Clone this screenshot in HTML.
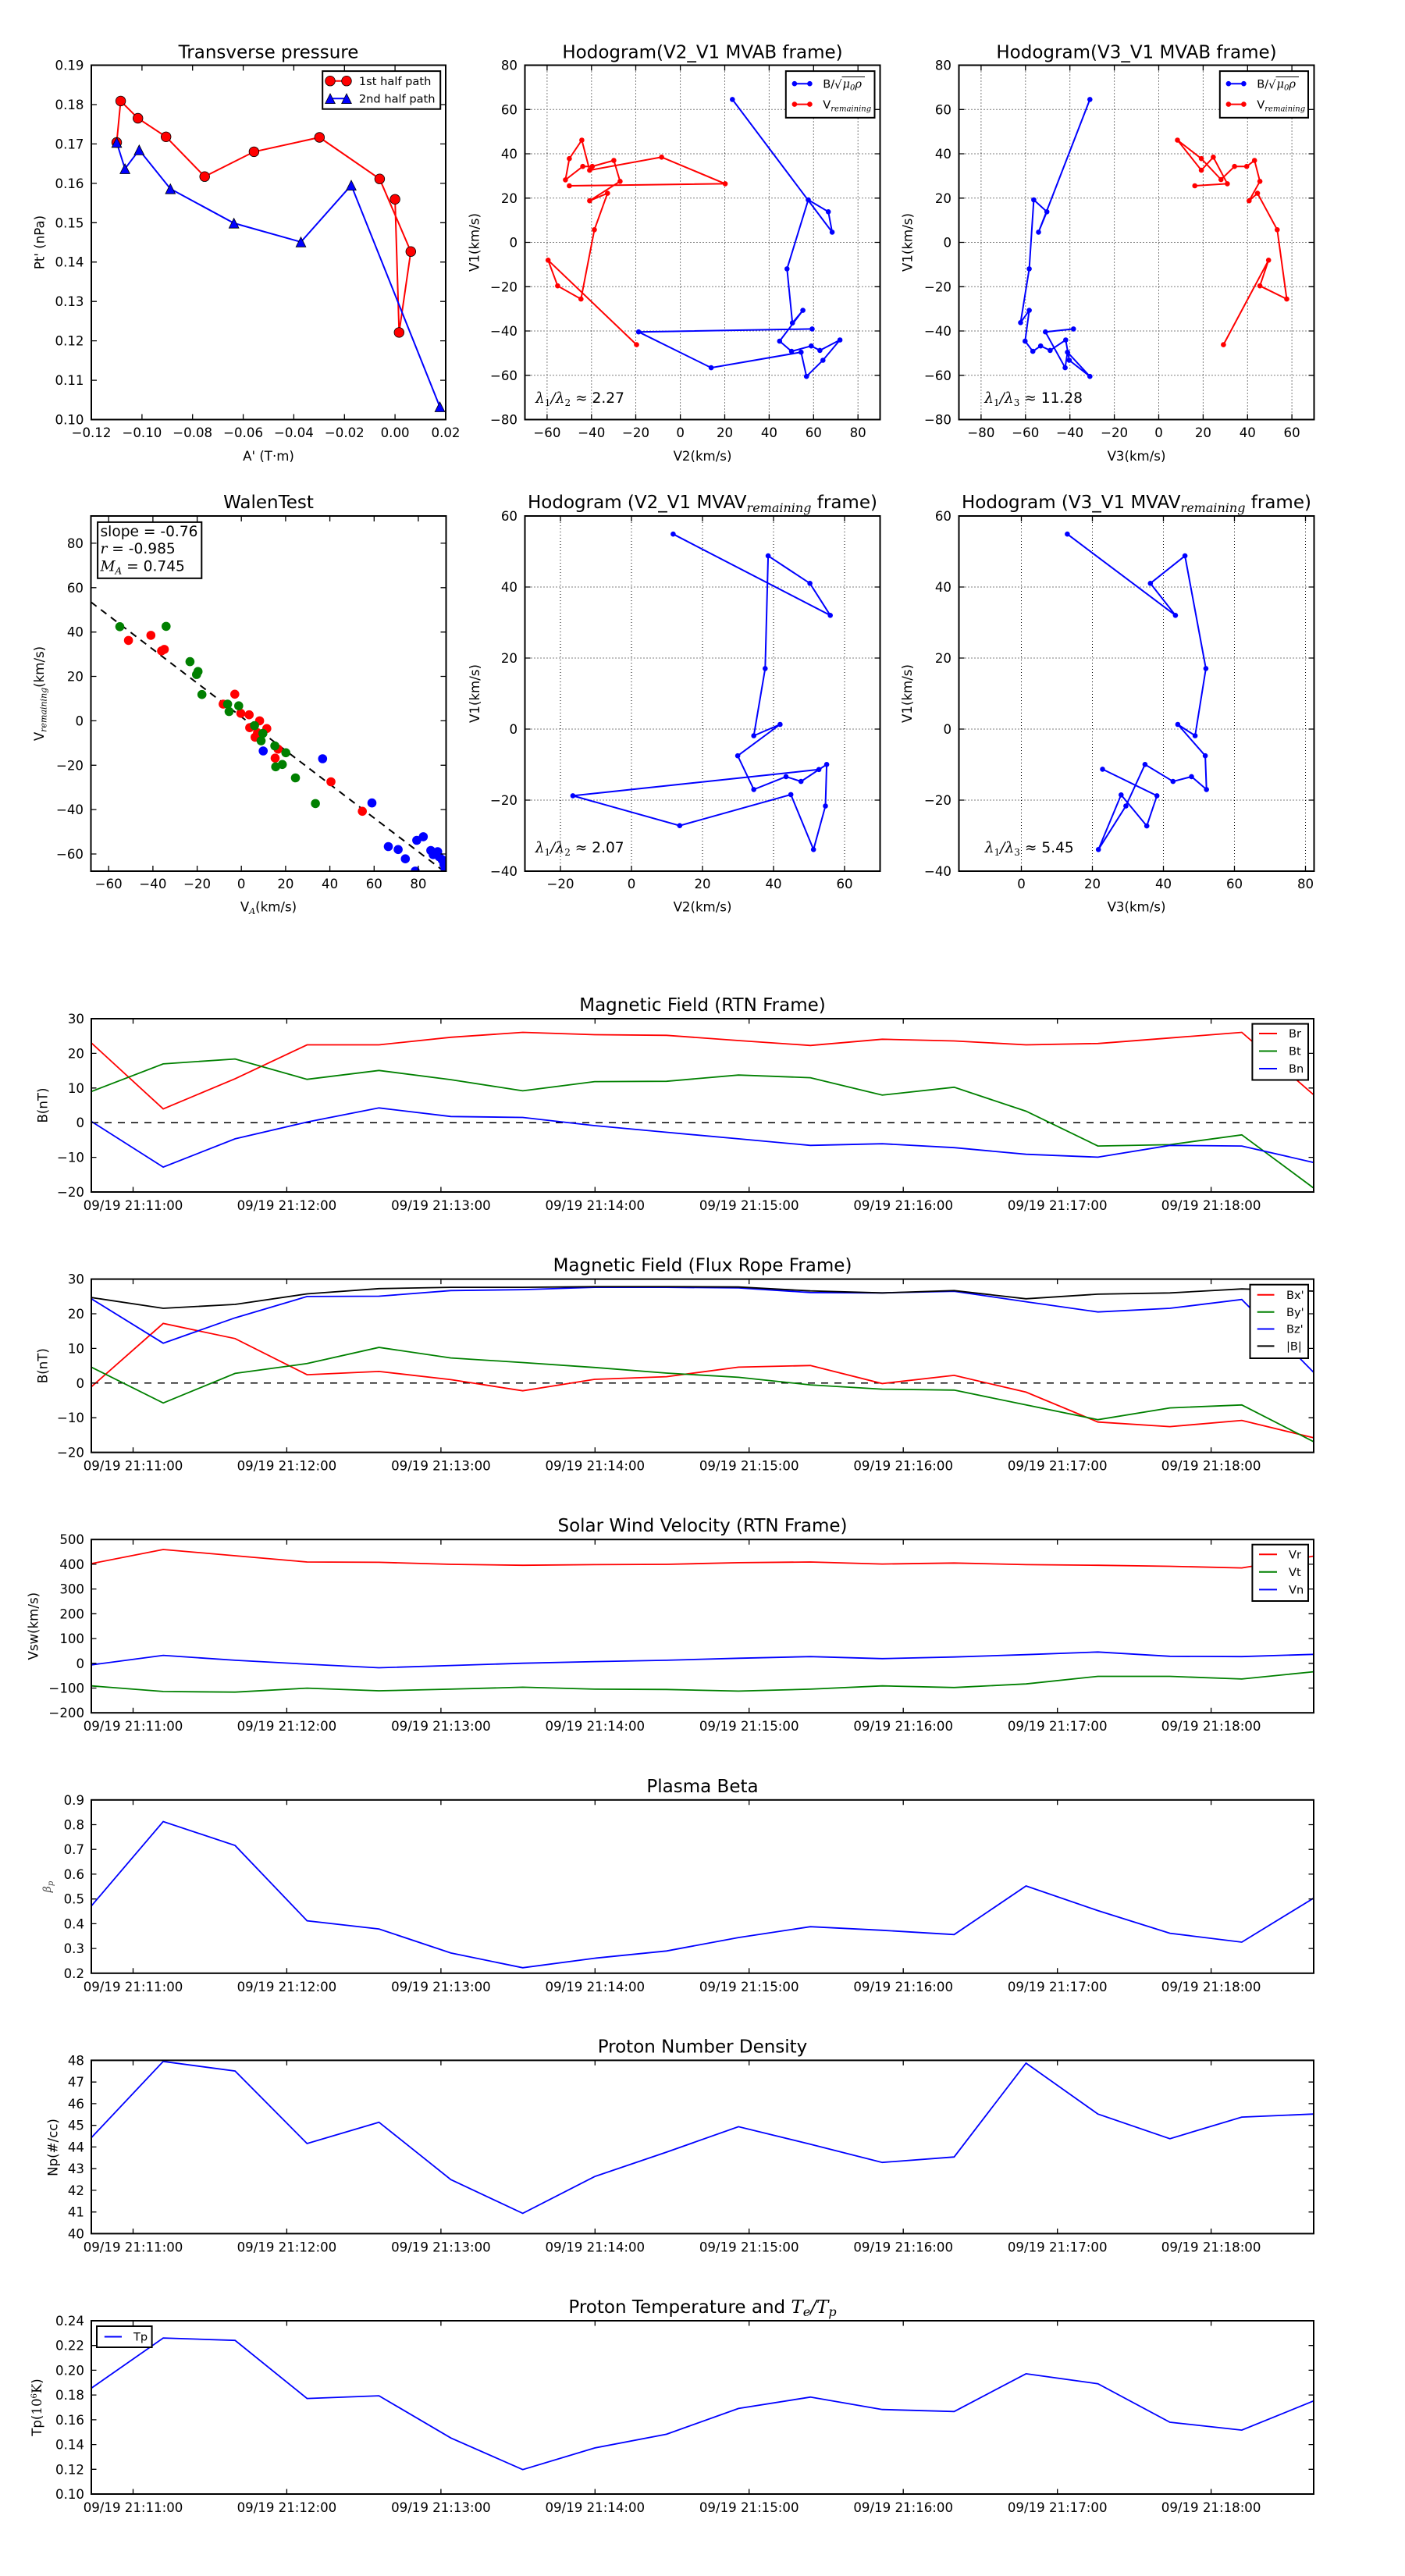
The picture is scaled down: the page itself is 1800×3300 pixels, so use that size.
<!DOCTYPE html>
<html><head><meta charset="utf-8"><style>
html,body{margin:0;padding:0;background:#fff}
svg{display:block}
svg text{font-family:"DejaVu Sans","Liberation Sans",sans-serif;fill:#000}
.tk{font-size:16.6px}
.tt{font-size:23px}
.lg{font-size:14.6px}
.bx{font-size:18.6px}
.mi{font-family:"DejaVu Serif","Liberation Serif",serif !important;font-style:italic}
.mr{font-family:"DejaVu Serif","Liberation Serif",serif !important}
.ax{fill:none;stroke:#000;stroke-width:2}
.tks{fill:none;stroke:#000;stroke-width:1.3}
.grd{fill:none;stroke:#000;stroke-width:1;stroke-dasharray:1,3}
</style></head><body>
<svg xmlns="http://www.w3.org/2000/svg" width="1800" height="3300" viewBox="0 0 1800 3300">
<rect x="0" y="0" width="1800" height="3300" fill="#fff"/>
<defs>
<clipPath id="cw"><rect x="116.5" y="661" width="455" height="455"/></clipPath>
<g id="xt"><path class="tks" d="M170.5 222v-6.5M367.4 222v-6.5M564.9 222v-6.5M762.3 222v-6.5M959.7 222v-6.5M1157.2 222v-6.5M1354.7 222v-6.5M1551.6 222v-6.5M170.5 0v6.5M367.4 0v6.5M564.9 0v6.5M762.3 0v6.5M959.7 0v6.5M1157.2 0v6.5M1354.7 0v6.5M1551.6 0v6.5"/></g>
</defs>

<!-- ============ PLOT 1: Transverse pressure ============ -->
<text class="tt" x="344" y="74.5" text-anchor="middle">Transverse pressure</text>
<polyline fill="none" stroke="#f00" stroke-width="2" points="149.5,182.5 154.6,129.4 176.7,151.5 212.7,175.3 262.2,226.2 325.4,194.4 409.3,176 486.4,229.2 526.3,322.2 511.3,425.9 506.1,255.3"/>
<g fill="#f00" stroke="#000" stroke-width="0.8">
<circle cx="149.5" cy="182.5" r="6.3"/><circle cx="154.6" cy="129.4" r="6.3"/><circle cx="176.7" cy="151.5" r="6.3"/><circle cx="212.7" cy="175.3" r="6.3"/><circle cx="262.2" cy="226.2" r="6.3"/><circle cx="325.4" cy="194.4" r="6.3"/><circle cx="409.3" cy="176" r="6.3"/><circle cx="486.4" cy="229.2" r="6.3"/><circle cx="526.3" cy="322.2" r="6.3"/><circle cx="511.3" cy="425.9" r="6.3"/><circle cx="506.1" cy="255.3" r="6.3"/>
</g>
<polyline fill="none" stroke="#00f" stroke-width="2" points="149.5,182.5 160.1,216.2 178.3,192.1 218.3,241.9 299.7,285.9 385.5,310 450,237.3 563.5,521.2"/>
<g fill="#00f" stroke="#000" stroke-width="0.8">
<polygon points="149.5,176.2 143.2,188.8 155.8,188.8"/><polygon points="160.1,209.9 153.8,222.5 166.4,222.5"/><polygon points="178.3,185.8 172,198.4 184.6,198.4"/><polygon points="218.3,235.6 212,248.2 224.6,248.2"/><polygon points="299.7,279.6 293.4,292.2 306,292.2"/><polygon points="385.5,303.7 379.2,316.3 391.8,316.3"/><polygon points="450,231 443.7,243.6 456.3,243.6"/><polygon points="563.5,514.9 557.2,527.5 569.8,527.5"/>
</g>
<rect class="ax" x="117" y="83.5" width="454" height="454"/>
<path class="tks" d="M117 537.5v-7M181.9 537.5v-7M246.7 537.5v-7M311.6 537.5v-7M376.4 537.5v-7M441.3 537.5v-7M506.1 537.5v-7M571 537.5v-7M117 83.5v7M181.9 83.5v7M246.7 83.5v7M311.6 83.5v7M376.4 83.5v7M441.3 83.5v7M506.1 83.5v7M571 83.5v7M117 487.1h7M117 436.6h7M117 386.2h7M117 335.7h7M117 285.3h7M117 234.9h7M117 184.4h7M117 134h7M571 487.1h-7M571 436.6h-7M571 386.2h-7M571 335.7h-7M571 285.3h-7M571 234.9h-7M571 184.4h-7M571 134h-7"/>
<g class="tk" text-anchor="middle">
<text x="117" y="560">−0.12</text><text x="181.9" y="560">−0.10</text><text x="246.7" y="560">−0.08</text><text x="311.6" y="560">−0.06</text><text x="376.4" y="560">−0.04</text><text x="441.3" y="560">−0.02</text><text x="506.1" y="560">0.00</text><text x="571" y="560">0.02</text>
</g>
<g class="tk" text-anchor="end">
<text x="107.5" y="543.5">0.10</text><text x="107.5" y="493.1">0.11</text><text x="107.5" y="442.6">0.12</text><text x="107.5" y="392.2">0.13</text><text x="107.5" y="341.7">0.14</text><text x="107.5" y="291.3">0.15</text><text x="107.5" y="240.9">0.16</text><text x="107.5" y="190.4">0.17</text><text x="107.5" y="140">0.18</text><text x="107.5" y="89.5">0.19</text>
</g>
<text class="tk" x="344" y="590" text-anchor="middle">A' (T·m)</text>
<text class="tk" transform="translate(56.6,310.5) rotate(-90)" text-anchor="middle">Pt' (nPa)</text>
<rect x="413.2" y="91.1" width="151" height="48.6" fill="#fff" stroke="#000" stroke-width="2"/>
<line x1="423" y1="103.7" x2="444" y2="103.7" stroke="#f00" stroke-width="2"/>
<circle cx="423" cy="103.7" r="6.3" fill="#f00" stroke="#000" stroke-width="0.8"/><circle cx="444" cy="103.7" r="6.3" fill="#f00" stroke="#000" stroke-width="0.8"/>
<text class="lg" x="459.9" y="109">1st half path</text>
<line x1="423" y1="126.3" x2="444" y2="126.3" stroke="#00f" stroke-width="2"/>
<polygon points="423,120 416.7,132.6 429.3,132.6" fill="#00f" stroke="#000" stroke-width="0.8"/><polygon points="444,120 437.7,132.6 450.3,132.6" fill="#00f" stroke="#000" stroke-width="0.8"/>
<text class="lg" x="459.9" y="131.6">2nd half path</text>

<!-- ============ PLOT 2: Hodogram V2_V1 MVAB ============ -->
<text class="tt" x="900" y="74.5" text-anchor="middle">Hodogram(V2_V1 MVAB frame)</text>
<path class="grd" d="M700.9 83.5V537.5M757.8 83.5V537.5M814.5 83.5V537.5M871.6 83.5V537.5M928.5 83.5V537.5M985.4 83.5V537.5M1042.3 83.5V537.5M1099.2 83.5V537.5M672.5 140.3H1127.5M672.5 197H1127.5M672.5 253.8H1127.5M672.5 310.5H1127.5M672.5 367.3H1127.5M672.5 424H1127.5M672.5 480.8H1127.5"/>
<polyline fill="none" stroke="#00f" stroke-width="2" points="938.3,127.4 1066.1,297.4 1061.2,271.3 1035.5,256 1008.3,344.4 1015.2,413.7 1028.6,397.6 998.8,437 1014.1,450.1 1039.3,443.2 1050.4,448.9 1076.1,435.5 1054.3,461.5 1033.2,482.2 1026.3,451.2 911.1,471.1 818.1,425.2 1040.5,421.4"/>
<g fill="#00f">
<circle cx="938.3" cy="127.4" r="3.3"/><circle cx="1066.1" cy="297.4" r="3.3"/><circle cx="1061.2" cy="271.3" r="3.3"/><circle cx="1035.5" cy="256" r="3.3"/><circle cx="1008.3" cy="344.4" r="3.3"/><circle cx="1015.2" cy="413.7" r="3.3"/><circle cx="1028.6" cy="397.6" r="3.3"/><circle cx="998.8" cy="437" r="3.3"/><circle cx="1014.1" cy="450.1" r="3.3"/><circle cx="1039.3" cy="443.2" r="3.3"/><circle cx="1050.4" cy="448.9" r="3.3"/><circle cx="1076.1" cy="435.5" r="3.3"/><circle cx="1054.3" cy="461.5" r="3.3"/><circle cx="1033.2" cy="482.2" r="3.3"/><circle cx="1026.3" cy="451.2" r="3.3"/><circle cx="911.1" cy="471.1" r="3.3"/><circle cx="818.1" cy="425.2" r="3.3"/><circle cx="1040.5" cy="421.4" r="3.3"/>
</g>
<polyline fill="none" stroke="#f00" stroke-width="2" points="729.4,238 929.1,235.4 847.6,201.3 755.4,218.1 745.4,179.5 729.4,203.2 724.4,230.4 746.6,213.2 758.8,213.2 786.4,205.5 794.4,232.3 755.4,257.2 778.3,247.6 761.5,294.3 744.3,383.1 714.4,366.2 702.2,333.3 815.5,441.6"/>
<g fill="#f00">
<circle cx="729.4" cy="238" r="3.3"/><circle cx="929.1" cy="235.4" r="3.3"/><circle cx="847.6" cy="201.3" r="3.3"/><circle cx="755.4" cy="218.1" r="3.3"/><circle cx="745.4" cy="179.5" r="3.3"/><circle cx="729.4" cy="203.2" r="3.3"/><circle cx="724.4" cy="230.4" r="3.3"/><circle cx="746.6" cy="213.2" r="3.3"/><circle cx="758.8" cy="213.2" r="3.3"/><circle cx="786.4" cy="205.5" r="3.3"/><circle cx="794.4" cy="232.3" r="3.3"/><circle cx="755.4" cy="257.2" r="3.3"/><circle cx="778.3" cy="247.6" r="3.3"/><circle cx="761.5" cy="294.3" r="3.3"/><circle cx="744.3" cy="383.1" r="3.3"/><circle cx="714.4" cy="366.2" r="3.3"/><circle cx="702.2" cy="333.3" r="3.3"/><circle cx="815.5" cy="441.6" r="3.3"/>
</g>
<rect class="ax" x="672.5" y="83.5" width="455" height="454"/>
<path class="tks" d="M700.9 537.5v-7M757.8 537.5v-7M814.5 537.5v-7M871.6 537.5v-7M928.5 537.5v-7M985.4 537.5v-7M1042.3 537.5v-7M1099.2 537.5v-7M700.9 83.5v7M757.8 83.5v7M814.5 83.5v7M871.6 83.5v7M928.5 83.5v7M985.4 83.5v7M1042.3 83.5v7M1099.2 83.5v7M672.5 140.3h7M672.5 197h7M672.5 253.8h7M672.5 310.5h7M672.5 367.3h7M672.5 424h7M672.5 480.8h7M1127.5 140.3h-7M1127.5 197h-7M1127.5 253.8h-7M1127.5 310.5h-7M1127.5 367.3h-7M1127.5 424h-7M1127.5 480.8h-7"/>
<g class="tk" text-anchor="middle">
<text x="700.9" y="560">−60</text><text x="757.8" y="560">−40</text><text x="814.5" y="560">−20</text><text x="871.6" y="560">0</text><text x="928.5" y="560">20</text><text x="985.4" y="560">40</text><text x="1042.3" y="560">60</text><text x="1099.2" y="560">80</text>
</g>
<g class="tk" text-anchor="end">
<text x="663" y="89.5">80</text><text x="663" y="146.3">60</text><text x="663" y="203">40</text><text x="663" y="259.8">20</text><text x="663" y="316.5">0</text><text x="663" y="373.3">−20</text><text x="663" y="430">−40</text><text x="663" y="486.8">−60</text><text x="663" y="543.5">−80</text>
</g>
<text class="tk" x="900" y="590" text-anchor="middle">V2(km/s)</text>
<text class="tk" transform="translate(613.6,310.5) rotate(-90)" text-anchor="middle">V1(km/s)</text>
<text x="686" y="516" class="bx"><tspan class="mi">λ</tspan><tspan class="mr" font-size="12" dy="4">1</tspan><tspan class="mi" dy="-4">/λ</tspan><tspan class="mr" font-size="12" dy="4">2</tspan><tspan class="mr" dy="-4"> ≈ </tspan><tspan>2.27</tspan></text>
<rect x="1006.8" y="91.1" width="113.7" height="59.7" fill="#fff" stroke="#000" stroke-width="2"/>
<line x1="1017.9" y1="107.2" x2="1037.4" y2="107.2" stroke="#00f" stroke-width="2"/>
<circle cx="1017.9" cy="107.2" r="3.3" fill="#00f"/><circle cx="1037.4" cy="107.2" r="3.3" fill="#00f"/>
<text class="lg" x="1054.3" y="112.5">B/</text>
<text class="mr" x="1069" y="113.5" font-size="15">√</text>
<line x1="1078.5" y1="98.5" x2="1108" y2="98.5" stroke="#000" stroke-width="1"/>
<text class="mi" x="1079.5" y="112.5" font-size="14.6">μ<tspan class="mr" font-size="10" dy="3">0</tspan><tspan dy="-3">ρ</tspan></text>
<line x1="1017.9" y1="133.6" x2="1037.4" y2="133.6" stroke="#f00" stroke-width="2"/>
<circle cx="1017.9" cy="133.6" r="3.3" fill="#f00"/><circle cx="1037.4" cy="133.6" r="3.3" fill="#f00"/>
<text class="lg" x="1054.3" y="138.9">V<tspan class="mi" font-size="10" dy="3.5">remaining</tspan></text>

<!-- ============ PLOT 3: Hodogram V3_V1 MVAB ============ -->
<text class="tt" x="1456" y="74.5" text-anchor="middle">Hodogram(V3_V1 MVAB frame)</text>
<path class="grd" d="M1256.9 83.5V537.5M1313.8 83.5V537.5M1370.7 83.5V537.5M1427.6 83.5V537.5M1484.5 83.5V537.5M1541.4 83.5V537.5M1598.3 83.5V537.5M1655.1 83.5V537.5M1228.5 140.3H1683.5M1228.5 197H1683.5M1228.5 253.8H1683.5M1228.5 310.5H1683.5M1228.5 367.3H1683.5M1228.5 424H1683.5M1228.5 480.8H1683.5"/>
<polyline fill="none" stroke="#00f" stroke-width="2" points="1396.3,127.4 1330.5,297.4 1341.2,271.3 1324.4,256 1318.6,344.4 1307.5,413.3 1318.6,397.6 1313.3,437 1323.2,450.1 1333.2,443.2 1345.4,448.9 1365.3,435.5 1369.9,461.5 1396.3,482.2 1367.6,451.2 1364.6,471.1 1339.3,425.2 1375.3,421.4"/>
<g fill="#00f">
<circle cx="1396.3" cy="127.4" r="3.3"/><circle cx="1330.5" cy="297.4" r="3.3"/><circle cx="1341.2" cy="271.3" r="3.3"/><circle cx="1324.4" cy="256" r="3.3"/><circle cx="1318.6" cy="344.4" r="3.3"/><circle cx="1307.5" cy="413.3" r="3.3"/><circle cx="1318.6" cy="397.6" r="3.3"/><circle cx="1313.3" cy="437" r="3.3"/><circle cx="1323.2" cy="450.1" r="3.3"/><circle cx="1333.2" cy="443.2" r="3.3"/><circle cx="1345.4" cy="448.9" r="3.3"/><circle cx="1365.3" cy="435.5" r="3.3"/><circle cx="1369.9" cy="461.5" r="3.3"/><circle cx="1396.3" cy="482.2" r="3.3"/><circle cx="1367.6" cy="451.2" r="3.3"/><circle cx="1364.6" cy="471.1" r="3.3"/><circle cx="1339.3" cy="425.2" r="3.3"/><circle cx="1375.3" cy="421.4" r="3.3"/>
</g>
<polyline fill="none" stroke="#f00" stroke-width="2" points="1530.7,238 1572.4,235.4 1554.4,201.3 1539.1,218.1 1508.5,179.5 1539.1,203.2 1564.3,230 1581.6,213.2 1597.2,213.2 1607.2,205.5 1614.1,232.3 1600.3,257.2 1611,247.6 1636.3,294.3 1648.5,383.1 1614.1,366.2 1625.2,333.3 1567.4,441.6"/>
<g fill="#f00">
<circle cx="1530.7" cy="238" r="3.3"/><circle cx="1572.4" cy="235.4" r="3.3"/><circle cx="1554.4" cy="201.3" r="3.3"/><circle cx="1539.1" cy="218.1" r="3.3"/><circle cx="1508.5" cy="179.5" r="3.3"/><circle cx="1539.1" cy="203.2" r="3.3"/><circle cx="1564.3" cy="230" r="3.3"/><circle cx="1581.6" cy="213.2" r="3.3"/><circle cx="1597.2" cy="213.2" r="3.3"/><circle cx="1607.2" cy="205.5" r="3.3"/><circle cx="1614.1" cy="232.3" r="3.3"/><circle cx="1600.3" cy="257.2" r="3.3"/><circle cx="1611" cy="247.6" r="3.3"/><circle cx="1636.3" cy="294.3" r="3.3"/><circle cx="1648.5" cy="383.1" r="3.3"/><circle cx="1614.1" cy="366.2" r="3.3"/><circle cx="1625.2" cy="333.3" r="3.3"/><circle cx="1567.4" cy="441.6" r="3.3"/>
</g>
<rect class="ax" x="1228.5" y="83.5" width="455" height="454"/>
<path class="tks" d="M1256.9 537.5v-7M1313.8 537.5v-7M1370.7 537.5v-7M1427.6 537.5v-7M1484.5 537.5v-7M1541.4 537.5v-7M1598.3 537.5v-7M1655.1 537.5v-7M1256.9 83.5v7M1313.8 83.5v7M1370.7 83.5v7M1427.6 83.5v7M1484.5 83.5v7M1541.4 83.5v7M1598.3 83.5v7M1655.1 83.5v7M1228.5 140.3h7M1228.5 197h7M1228.5 253.8h7M1228.5 310.5h7M1228.5 367.3h7M1228.5 424h7M1228.5 480.8h7M1683.5 140.3h-7M1683.5 197h-7M1683.5 253.8h-7M1683.5 310.5h-7M1683.5 367.3h-7M1683.5 424h-7M1683.5 480.8h-7"/>
<g class="tk" text-anchor="middle">
<text x="1256.9" y="560">−80</text><text x="1313.8" y="560">−60</text><text x="1370.7" y="560">−40</text><text x="1427.6" y="560">−20</text><text x="1484.5" y="560">0</text><text x="1541.4" y="560">20</text><text x="1598.3" y="560">40</text><text x="1655.1" y="560">60</text>
</g>
<g class="tk" text-anchor="end">
<text x="1219" y="89.5">80</text><text x="1219" y="146.3">60</text><text x="1219" y="203">40</text><text x="1219" y="259.8">20</text><text x="1219" y="316.5">0</text><text x="1219" y="373.3">−20</text><text x="1219" y="430">−40</text><text x="1219" y="486.8">−60</text><text x="1219" y="543.5">−80</text>
</g>
<text class="tk" x="1456" y="590" text-anchor="middle">V3(km/s)</text>
<text class="tk" transform="translate(1168.6,310.5) rotate(-90)" text-anchor="middle">V1(km/s)</text>
<text x="1261.2" y="516" class="bx"><tspan class="mi">λ</tspan><tspan class="mr" font-size="12" dy="4">1</tspan><tspan class="mi" dy="-4">/λ</tspan><tspan class="mr" font-size="12" dy="4">3</tspan><tspan class="mr" dy="-4"> ≈ </tspan><tspan>11.28</tspan></text>
<rect x="1562.8" y="91.1" width="113.2" height="59.7" fill="#fff" stroke="#000" stroke-width="2"/>
<line x1="1573.9" y1="107.2" x2="1593.4" y2="107.2" stroke="#00f" stroke-width="2"/>
<circle cx="1573.9" cy="107.2" r="3.3" fill="#00f"/><circle cx="1593.4" cy="107.2" r="3.3" fill="#00f"/>
<text class="lg" x="1610.3" y="112.5">B/</text>
<text class="mr" x="1625" y="113.5" font-size="15">√</text>
<line x1="1634.5" y1="98.5" x2="1664" y2="98.5" stroke="#000" stroke-width="1"/>
<text class="mi" x="1635.5" y="112.5" font-size="14.6">μ<tspan class="mr" font-size="10" dy="3">0</tspan><tspan dy="-3">ρ</tspan></text>
<line x1="1573.9" y1="133.6" x2="1593.4" y2="133.6" stroke="#f00" stroke-width="2"/>
<circle cx="1573.9" cy="133.6" r="3.3" fill="#f00"/><circle cx="1593.4" cy="133.6" r="3.3" fill="#f00"/>
<text class="lg" x="1610.3" y="138.9">V<tspan class="mi" font-size="10" dy="3.5">remaining</tspan></text>

<!-- ============ PLOT 4: WalenTest ============ -->
<text class="tt" x="344" y="651" text-anchor="middle">WalenTest</text>
<g clip-path="url(#cw)">
<line x1="116.5" y1="771.3" x2="571.5" y2="1118.2" stroke="#000" stroke-width="2" stroke-dasharray="9,7"/>
<g fill="#f00">
<circle cx="164.6" cy="820.4" r="5.8"/><circle cx="193.3" cy="813.9" r="5.8"/><circle cx="207" cy="833.8" r="5.8"/><circle cx="210.5" cy="831.9" r="5.8"/><circle cx="300.8" cy="889.3" r="5.8"/><circle cx="285.9" cy="902" r="5.8"/><circle cx="308.5" cy="913.8" r="5.8"/><circle cx="319.2" cy="915.7" r="5.8"/><circle cx="332.6" cy="923.4" r="5.8"/><circle cx="319.9" cy="932.2" r="5.8"/><circle cx="341.8" cy="933.3" r="5.8"/><circle cx="326.8" cy="944.4" r="5.8"/><circle cx="329.9" cy="938.7" r="5.8"/><circle cx="356.3" cy="959.7" r="5.8"/><circle cx="352.5" cy="971.2" r="5.8"/><circle cx="424" cy="1001.5" r="5.8"/><circle cx="464.2" cy="1039.3" r="5.8"/>
</g>
<g fill="#008000">
<circle cx="153.5" cy="802.8" r="5.8"/><circle cx="212.8" cy="802.4" r="5.8"/><circle cx="243.4" cy="847.6" r="5.8"/><circle cx="253.7" cy="860.2" r="5.8"/><circle cx="251.8" cy="864.1" r="5.8"/><circle cx="258.7" cy="889.7" r="5.8"/><circle cx="291.6" cy="902" r="5.8"/><circle cx="293.5" cy="911.5" r="5.8"/><circle cx="305.8" cy="904.2" r="5.8"/><circle cx="326.1" cy="929.5" r="5.8"/><circle cx="336.8" cy="939.5" r="5.8"/><circle cx="334.5" cy="949" r="5.8"/><circle cx="352.1" cy="955.5" r="5.8"/><circle cx="366.2" cy="964.3" r="5.8"/><circle cx="353.2" cy="982.3" r="5.8"/><circle cx="361.7" cy="979.3" r="5.8"/><circle cx="378.5" cy="996.5" r="5.8"/><circle cx="404.1" cy="1029.4" r="5.8"/>
</g>
<g fill="#00f">
<circle cx="337.2" cy="962" r="5.8"/><circle cx="413.3" cy="972" r="5.8"/><circle cx="476.5" cy="1028.6" r="5.8"/><circle cx="497.5" cy="1084.5" r="5.8"/><circle cx="510.1" cy="1088.3" r="5.8"/><circle cx="519.3" cy="1100.2" r="5.8"/><circle cx="533.9" cy="1076.5" r="5.8"/><circle cx="542.3" cy="1071.9" r="5.8"/><circle cx="532" cy="1115.9" r="5.8"/><circle cx="551.9" cy="1089.5" r="5.8"/><circle cx="554.9" cy="1094.8" r="5.8"/><circle cx="560.7" cy="1091" r="5.8"/><circle cx="562.6" cy="1097.5" r="5.8"/><circle cx="566.4" cy="1101.3" r="5.8"/><circle cx="568.7" cy="1107.1" r="5.8"/><circle cx="570.2" cy="1112.8" r="5.8"/>
</g>
</g>
<rect class="ax" x="116.5" y="661" width="455" height="455"/>
<path class="tks" d="M139.2 1116v-7M195.9 1116v-7M252.6 1116v-7M309.2 1116v-7M365.9 1116v-7M422.6 1116v-7M479.3 1116v-7M535.9 1116v-7M139.2 661v7M195.9 661v7M252.6 661v7M309.2 661v7M365.9 661v7M422.6 661v7M479.3 661v7M535.9 661v7M116.5 695.9h7M116.5 752.8h7M116.5 809.7h7M116.5 866.5h7M116.5 923.4h7M116.5 980.3h7M116.5 1037.1h7M116.5 1094h7M571.5 695.9h-7M571.5 752.8h-7M571.5 809.7h-7M571.5 866.5h-7M571.5 923.4h-7M571.5 980.3h-7M571.5 1037.1h-7M571.5 1094h-7"/>
<g class="tk" text-anchor="middle">
<text x="139.2" y="1138">−60</text><text x="195.9" y="1138">−40</text><text x="252.6" y="1138">−20</text><text x="309.2" y="1138">0</text><text x="365.9" y="1138">20</text><text x="422.6" y="1138">40</text><text x="479.3" y="1138">60</text><text x="535.9" y="1138">80</text>
</g>
<g class="tk" text-anchor="end">
<text x="107" y="701.9">80</text><text x="107" y="758.8">60</text><text x="107" y="815.7">40</text><text x="107" y="872.5">20</text><text x="107" y="929.4">0</text><text x="107" y="986.3">−20</text><text x="107" y="1043.1">−40</text><text x="107" y="1100">−60</text>
</g>
<text class="tk" x="344" y="1167.5" text-anchor="middle">V<tspan class="mi" font-size="11" dy="3.5">A</tspan><tspan dy="-3.5">(km/s)</tspan></text>
<text class="tk" transform="translate(55.8,888.5) rotate(-90)" text-anchor="middle">V<tspan class="mi" font-size="11" dy="3.5">remaining</tspan><tspan dy="-3.5">(km/s)</tspan></text>
<rect x="125.1" y="668.9" width="133.2" height="71.9" fill="#fff" stroke="#000" stroke-width="2"/>
<text class="bx" x="128.5" y="687">slope = -0.76</text>
<text class="bx" x="128.5" y="709.2"><tspan class="mi">r</tspan> = -0.985</text>
<text class="bx" x="128.5" y="731.4"><tspan class="mi">M</tspan><tspan class="mi" font-size="12" dy="4">A</tspan><tspan dy="-4"> = 0.745</tspan></text>

<!-- ============ PLOT 5: Hodogram V2_V1 MVAV ============ -->
<text class="tt" x="900" y="651" text-anchor="middle">Hodogram (V2_V1 MVAV<tspan class="mi" font-size="16" dy="5">remaining</tspan><tspan dy="-5"> frame)</tspan></text>
<path class="grd" d="M718 661V1116M809 661V1116M900 661V1116M991 661V1116M1082 661V1116M672.5 752H1127.5M672.5 843H1127.5M672.5 934H1127.5M672.5 1025H1127.5"/>
<polyline fill="none" stroke="#00f" stroke-width="2" points="862.4,684.2 1063.7,788.3 1037.6,747.3 984.1,712.1 980.3,856.4 965.7,942.5 999.4,928 945.1,968.2 965.7,1011.4 1007,994.9 1026.2,1001.1 1059.1,979.3 1057.5,1032.5 1042.2,1088.3 1013.2,1017.9 870.8,1057.7 733.9,1019.4 1049.1,985.8"/>
<g fill="#00f">
<circle cx="862.4" cy="684.2" r="3.3"/><circle cx="1063.7" cy="788.3" r="3.3"/><circle cx="1037.6" cy="747.3" r="3.3"/><circle cx="984.1" cy="712.1" r="3.3"/><circle cx="980.3" cy="856.4" r="3.3"/><circle cx="965.7" cy="942.5" r="3.3"/><circle cx="999.4" cy="928" r="3.3"/><circle cx="945.1" cy="968.2" r="3.3"/><circle cx="965.7" cy="1011.4" r="3.3"/><circle cx="1007" cy="994.9" r="3.3"/><circle cx="1026.2" cy="1001.1" r="3.3"/><circle cx="1059.1" cy="979.3" r="3.3"/><circle cx="1057.5" cy="1032.5" r="3.3"/><circle cx="1042.2" cy="1088.3" r="3.3"/><circle cx="1013.2" cy="1017.9" r="3.3"/><circle cx="870.8" cy="1057.7" r="3.3"/><circle cx="733.9" cy="1019.4" r="3.3"/><circle cx="1049.1" cy="985.8" r="3.3"/>
</g>
<rect class="ax" x="672.5" y="661" width="455" height="455"/>
<path class="tks" d="M718 1116v-7M809 1116v-7M900 1116v-7M991 1116v-7M1082 1116v-7M718 661v7M809 661v7M900 661v7M991 661v7M1082 661v7M672.5 752h7M672.5 843h7M672.5 934h7M672.5 1025h7M1127.5 752h-7M1127.5 843h-7M1127.5 934h-7M1127.5 1025h-7"/>
<g class="tk" text-anchor="middle">
<text x="718" y="1138">−20</text><text x="809" y="1138">0</text><text x="900" y="1138">20</text><text x="991" y="1138">40</text><text x="1082" y="1138">60</text>
</g>
<g class="tk" text-anchor="end">
<text x="663" y="667">60</text><text x="663" y="758">40</text><text x="663" y="849">20</text><text x="663" y="940">0</text><text x="663" y="1031">−20</text><text x="663" y="1122">−40</text>
</g>
<text class="tk" x="900" y="1167.5" text-anchor="middle">V2(km/s)</text>
<text class="tk" transform="translate(614,888.5) rotate(-90)" text-anchor="middle">V1(km/s)</text>
<text x="685.7" y="1092" class="bx"><tspan class="mi">λ</tspan><tspan class="mr" font-size="12" dy="4">1</tspan><tspan class="mi" dy="-4">/λ</tspan><tspan class="mr" font-size="12" dy="4">2</tspan><tspan class="mr" dy="-4"> ≈ </tspan><tspan>2.07</tspan></text>

<!-- ============ PLOT 6: Hodogram V3_V1 MVAV ============ -->
<text class="tt" x="1456" y="651" text-anchor="middle">Hodogram (V3_V1 MVAV<tspan class="mi" font-size="16" dy="5">remaining</tspan><tspan dy="-5"> frame)</tspan></text>
<path class="grd" d="M1308.5 661V1116M1399.5 661V1116M1490.5 661V1116M1581.5 661V1116M1672.5 661V1116M1228.5 752H1683.5M1228.5 843H1683.5M1228.5 934H1683.5M1228.5 1025H1683.5"/>
<polyline fill="none" stroke="#00f" stroke-width="2" points="1367.4,684.2 1505.9,788.3 1473.8,747.3 1518.1,712.1 1544.9,856.4 1531.1,942.5 1508.9,928 1544.1,968.2 1545.7,1011.4 1526.5,994.9 1502.8,1001.1 1466.9,979.3 1442.4,1032.5 1407.2,1088.3 1436.3,1018.3 1469.2,1058.1 1482.2,1019.4 1412.5,985.4"/>
<g fill="#00f">
<circle cx="1367.4" cy="684.2" r="3.3"/><circle cx="1505.9" cy="788.3" r="3.3"/><circle cx="1473.8" cy="747.3" r="3.3"/><circle cx="1518.1" cy="712.1" r="3.3"/><circle cx="1544.9" cy="856.4" r="3.3"/><circle cx="1531.1" cy="942.5" r="3.3"/><circle cx="1508.9" cy="928" r="3.3"/><circle cx="1544.1" cy="968.2" r="3.3"/><circle cx="1545.7" cy="1011.4" r="3.3"/><circle cx="1526.5" cy="994.9" r="3.3"/><circle cx="1502.8" cy="1001.1" r="3.3"/><circle cx="1466.9" cy="979.3" r="3.3"/><circle cx="1442.4" cy="1032.5" r="3.3"/><circle cx="1407.2" cy="1088.3" r="3.3"/><circle cx="1436.3" cy="1018.3" r="3.3"/><circle cx="1469.2" cy="1058.1" r="3.3"/><circle cx="1482.2" cy="1019.4" r="3.3"/><circle cx="1412.5" cy="985.4" r="3.3"/>
</g>
<rect class="ax" x="1228.5" y="661" width="455" height="455"/>
<path class="tks" d="M1308.5 1116v-7M1399.5 1116v-7M1490.5 1116v-7M1581.5 1116v-7M1672.5 1116v-7M1308.5 661v7M1399.5 661v7M1490.5 661v7M1581.5 661v7M1672.5 661v7M1228.5 752h7M1228.5 843h7M1228.5 934h7M1228.5 1025h7M1683.5 752h-7M1683.5 843h-7M1683.5 934h-7M1683.5 1025h-7"/>
<g class="tk" text-anchor="middle">
<text x="1308.5" y="1138">0</text><text x="1399.5" y="1138">20</text><text x="1490.5" y="1138">40</text><text x="1581.5" y="1138">60</text><text x="1672.5" y="1138">80</text>
</g>
<g class="tk" text-anchor="end">
<text x="1219" y="667">60</text><text x="1219" y="758">40</text><text x="1219" y="849">20</text><text x="1219" y="940">0</text><text x="1219" y="1031">−20</text><text x="1219" y="1122">−40</text>
</g>
<text class="tk" x="1456" y="1167.5" text-anchor="middle">V3(km/s)</text>
<text class="tk" transform="translate(1168,888.5) rotate(-90)" text-anchor="middle">V1(km/s)</text>
<text x="1261.8" y="1092" class="bx"><tspan class="mi">λ</tspan><tspan class="mr" font-size="12" dy="4">1</tspan><tspan class="mi" dy="-4">/λ</tspan><tspan class="mr" font-size="12" dy="4">3</tspan><tspan class="mr" dy="-4"> ≈ </tspan><tspan>5.45</tspan></text>

<!-- ============ TS1: Magnetic Field RTN ============ -->
<text class="tt" x="900" y="1295" text-anchor="middle">Magnetic Field (RTN Frame)</text>
<line x1="117" y1="1438.2" x2="1683" y2="1438.2" stroke="#000" stroke-width="1.5" stroke-dasharray="9,8"/>
<polyline fill="none" stroke="#f00" stroke-width="1.8" points="117,1336 209.1,1420.6 301.2,1381.9 393.4,1338.5 485.5,1338.5 577.6,1328.8 669.7,1322.5 761.8,1325.5 853.9,1326.3 946.1,1333 1038.2,1339.3 1130.3,1331.3 1222.4,1333.5 1314.5,1338.5 1406.6,1336.8 1498.8,1329.7 1590.9,1322.5 1683,1402.5"/>
<polyline fill="none" stroke="#008000" stroke-width="1.8" points="117,1398.3 209.1,1362.9 301.2,1356.6 393.4,1382.7 485.5,1371.3 577.6,1383.1 669.7,1397.4 761.8,1385.6 853.9,1385.2 946.1,1377.2 1038.2,1380.6 1130.3,1402.9 1222.4,1392.8 1314.5,1423.5 1406.6,1468.1 1498.8,1466.4 1590.9,1453.8 1683,1522"/>
<polyline fill="none" stroke="#00f" stroke-width="1.8" points="117,1436.6 209.1,1495.1 301.2,1458.9 393.4,1437.4 485.5,1419.3 577.6,1430.3 669.7,1431.5 761.8,1442 853.9,1450.5 946.1,1458.9 1038.2,1467.3 1130.3,1465.2 1222.4,1470.2 1314.5,1478.7 1406.6,1482.4 1498.8,1467.3 1590.9,1468.1 1683,1489.2"/>
<rect class="ax" x="117" y="1305" width="1566" height="222"/>
<use href="#xt" transform="translate(0,1305)"/>
<path class="tks" d="M117 1349.4h6.5M117 1393.8h6.5M117 1438.2h6.5M117 1482.6h6.5M1683 1349.4h-6.5M1683 1393.8h-6.5M1683 1438.2h-6.5M1683 1482.6h-6.5"/>
<g class="tk" text-anchor="end">
<text x="108" y="1311">30</text><text x="108" y="1355.4">20</text><text x="108" y="1399.8">10</text><text x="108" y="1444.2">0</text><text x="108" y="1488.6">−10</text><text x="108" y="1533">−20</text>
</g>
<g class="tk" text-anchor="middle">
<text x="170.5" y="1550">09/19 21:11:00</text><text x="367.4" y="1550">09/19 21:12:00</text><text x="564.9" y="1550">09/19 21:13:00</text><text x="762.3" y="1550">09/19 21:14:00</text><text x="959.7" y="1550">09/19 21:15:00</text><text x="1157.2" y="1550">09/19 21:16:00</text><text x="1354.7" y="1550">09/19 21:17:00</text><text x="1551.6" y="1550">09/19 21:18:00</text>
</g>
<text class="tk" transform="translate(60.5,1416) rotate(-90)" text-anchor="middle">B(nT)</text>
<rect x="1604.4" y="1311.6" width="71.6" height="71.9" fill="#fff" stroke="#000" stroke-width="2"/>
<line x1="1613" y1="1324" x2="1636" y2="1324" stroke="#f00" stroke-width="2"/><text class="lg" x="1651" y="1329.2">Br</text>
<line x1="1613" y1="1346.5" x2="1636" y2="1346.5" stroke="#008000" stroke-width="2"/><text class="lg" x="1651" y="1351.7">Bt</text>
<line x1="1613" y1="1369" x2="1636" y2="1369" stroke="#00f" stroke-width="2"/><text class="lg" x="1651" y="1374.2">Bn</text>

<!-- ============ TS2: Magnetic Field Flux Rope ============ -->
<text class="tt" x="900" y="1628.6" text-anchor="middle">Magnetic Field (Flux Rope Frame)</text>
<line x1="117" y1="1771.8" x2="1683" y2="1771.8" stroke="#000" stroke-width="1.5" stroke-dasharray="9,8"/>
<polyline fill="none" stroke="#f00" stroke-width="1.8" points="117,1776.6 209.1,1695.4 301.2,1714.8 393.4,1761.1 485.5,1756.9 577.6,1767.4 669.7,1781.7 761.8,1767 853.9,1763.6 946.1,1751.4 1038.2,1749.3 1130.3,1772.4 1222.4,1761.9 1314.5,1783.4 1406.6,1821.7 1498.8,1827.6 1590.9,1819.6 1683,1841.9"/>
<polyline fill="none" stroke="#008000" stroke-width="1.8" points="117,1751.4 209.1,1797.3 301.2,1759.4 393.4,1746.8 485.5,1726.1 577.6,1739.6 669.7,1745.5 761.8,1751.8 853.9,1759 946.1,1764.4 1038.2,1774.1 1130.3,1779.6 1222.4,1780.8 1314.5,1799.8 1406.6,1818.7 1498.8,1803.6 1590.9,1799.8 1683,1846.9"/>
<polyline fill="none" stroke="#00f" stroke-width="1.8" points="117,1663.8 209.1,1720.7 301.2,1688.2 393.4,1660.9 485.5,1660.5 577.6,1653.3 669.7,1652.1 761.8,1649.1 853.9,1649.1 946.1,1649.9 1038.2,1655.8 1130.3,1656.3 1222.4,1654.2 1314.5,1667.6 1406.6,1680.7 1498.8,1676 1590.9,1664.7 1683,1758.1"/>
<polyline fill="none" stroke="#000" stroke-width="1.8" points="117,1662.2 209.1,1676 301.2,1671 393.4,1657.5 485.5,1650.8 577.6,1649.1 669.7,1649.1 761.8,1648.3 853.9,1648.3 946.1,1648.7 1038.2,1653.7 1130.3,1656.3 1222.4,1653.3 1314.5,1663.8 1406.6,1657.9 1498.8,1656.3 1590.9,1651.2 1683,1654"/>
<rect class="ax" x="117" y="1638.6" width="1566" height="222"/>
<use href="#xt" transform="translate(0,1638.6)"/>
<path class="tks" d="M117 1683h6.5M117 1727.4h6.5M117 1771.8h6.5M117 1816.2h6.5M1683 1683h-6.5M1683 1727.4h-6.5M1683 1771.8h-6.5M1683 1816.2h-6.5"/>
<g class="tk" text-anchor="end">
<text x="108" y="1644.6">30</text><text x="108" y="1689">20</text><text x="108" y="1733.4">10</text><text x="108" y="1777.8">0</text><text x="108" y="1822.2">−10</text><text x="108" y="1866.6">−20</text>
</g>
<g class="tk" text-anchor="middle">
<text x="170.5" y="1883.6">09/19 21:11:00</text><text x="367.4" y="1883.6">09/19 21:12:00</text><text x="564.9" y="1883.6">09/19 21:13:00</text><text x="762.3" y="1883.6">09/19 21:14:00</text><text x="959.7" y="1883.6">09/19 21:15:00</text><text x="1157.2" y="1883.6">09/19 21:16:00</text><text x="1354.7" y="1883.6">09/19 21:17:00</text><text x="1551.6" y="1883.6">09/19 21:18:00</text>
</g>
<text class="tk" transform="translate(60.5,1749.6) rotate(-90)" text-anchor="middle">B(nT)</text>
<rect x="1601.5" y="1645.7" width="74.5" height="94.3" fill="#fff" stroke="#000" stroke-width="2"/>
<line x1="1610.7" y1="1658.8" x2="1632.5" y2="1658.8" stroke="#f00" stroke-width="2"/><text class="lg" x="1648" y="1664">Bx'</text>
<line x1="1610.7" y1="1680.7" x2="1632.5" y2="1680.7" stroke="#008000" stroke-width="2"/><text class="lg" x="1648" y="1685.9">By'</text>
<line x1="1610.7" y1="1702.5" x2="1632.5" y2="1702.5" stroke="#00f" stroke-width="2"/><text class="lg" x="1648" y="1707.7">Bz'</text>
<line x1="1610.7" y1="1724.4" x2="1632.5" y2="1724.4" stroke="#000" stroke-width="2"/><text class="lg" x="1648" y="1729.6">|B|</text>

<!-- ============ TS3: Solar Wind Velocity ============ -->
<text class="tt" x="900" y="1962.2" text-anchor="middle">Solar Wind Velocity (RTN Frame)</text>
<polyline fill="none" stroke="#f00" stroke-width="1.8" points="117,2003.1 209.1,1985 301.2,1993 393.4,2001 485.5,2001.4 577.6,2004 669.7,2005.2 761.8,2004.4 853.9,2004 946.1,2001.9 1038.2,2001 1130.3,2003.6 1222.4,2002.3 1314.5,2004.4 1406.6,2005.2 1498.8,2006.5 1590.9,2008.6 1683,1993.5"/>
<polyline fill="none" stroke="#008000" stroke-width="1.8" points="117,2159.7 209.1,2166.9 301.2,2167.7 393.4,2162.6 485.5,2166 577.6,2163.9 669.7,2161.4 761.8,2163.9 853.9,2164.3 946.1,2166.4 1038.2,2163.9 1130.3,2159.7 1222.4,2161.8 1314.5,2157.2 1406.6,2147.5 1498.8,2147.5 1590.9,2150.9 1683,2141.6"/>
<polyline fill="none" stroke="#00f" stroke-width="1.8" points="117,2132.8 209.1,2120.6 301.2,2126.9 393.4,2131.9 485.5,2136.5 577.6,2133.6 669.7,2130.7 761.8,2128.6 853.9,2126.9 946.1,2124.3 1038.2,2122.2 1130.3,2124.8 1222.4,2122.7 1314.5,2119.7 1406.6,2116.3 1498.8,2121.8 1590.9,2122.2 1683,2119.3"/>
<rect class="ax" x="117" y="1972.2" width="1566" height="222"/>
<use href="#xt" transform="translate(0,1972.2)"/>
<path class="tks" d="M117 2003.9h6.5M117 2035.6h6.5M117 2067.3h6.5M117 2099.1h6.5M117 2130.8h6.5M117 2162.5h6.5M1683 2003.9h-6.5M1683 2035.6h-6.5M1683 2067.3h-6.5M1683 2099.1h-6.5M1683 2130.8h-6.5M1683 2162.5h-6.5"/>
<g class="tk" text-anchor="end">
<text x="108" y="1978.2">500</text><text x="108" y="2009.9">400</text><text x="108" y="2041.6">300</text><text x="108" y="2073.3">200</text><text x="108" y="2105.1">100</text><text x="108" y="2136.8">0</text><text x="108" y="2168.5">−100</text><text x="108" y="2200.2">−200</text>
</g>
<g class="tk" text-anchor="middle">
<text x="170.5" y="2217.2">09/19 21:11:00</text><text x="367.4" y="2217.2">09/19 21:12:00</text><text x="564.9" y="2217.2">09/19 21:13:00</text><text x="762.3" y="2217.2">09/19 21:14:00</text><text x="959.7" y="2217.2">09/19 21:15:00</text><text x="1157.2" y="2217.2">09/19 21:16:00</text><text x="1354.7" y="2217.2">09/19 21:17:00</text><text x="1551.6" y="2217.2">09/19 21:18:00</text>
</g>
<text class="tk" transform="translate(48.5,2083.2) rotate(-90)" text-anchor="middle">Vsw(km/s)</text>
<rect x="1604.4" y="1978.7" width="71.6" height="72.3" fill="#fff" stroke="#000" stroke-width="2"/>
<line x1="1613" y1="1991.3" x2="1636" y2="1991.3" stroke="#f00" stroke-width="2"/><text class="lg" x="1651" y="1996.5">Vr</text>
<line x1="1613" y1="2013.7" x2="1636" y2="2013.7" stroke="#008000" stroke-width="2"/><text class="lg" x="1651" y="2018.9">Vt</text>
<line x1="1613" y1="2036.4" x2="1636" y2="2036.4" stroke="#00f" stroke-width="2"/><text class="lg" x="1651" y="2041.6">Vn</text>

<!-- ============ TS4: Plasma Beta ============ -->
<text class="tt" x="900" y="2295.8" text-anchor="middle">Plasma Beta</text>
<polyline fill="none" stroke="#00f" stroke-width="1.8" points="117,2441.7 209.1,2333.5 301.2,2364.2 393.4,2460.6 485.5,2471.1 577.6,2501.9 669.7,2520.8 761.8,2508.6 853.9,2499.3 946.1,2482.1 1038.2,2468.2 1130.3,2472.8 1222.4,2478.3 1314.5,2416 1406.6,2447.6 1498.8,2476.6 1590.9,2488 1683,2431.6"/>
<rect class="ax" x="117" y="2305.8" width="1566" height="222"/>
<use href="#xt" transform="translate(0,2305.8)"/>
<path class="tks" d="M117 2337.5h6.5M117 2369.2h6.5M117 2400.9h6.5M117 2432.7h6.5M117 2464.4h6.5M117 2496.1h6.5M1683 2337.5h-6.5M1683 2369.2h-6.5M1683 2400.9h-6.5M1683 2432.7h-6.5M1683 2464.4h-6.5M1683 2496.1h-6.5"/>
<g class="tk" text-anchor="end">
<text x="108" y="2311.8">0.9</text><text x="108" y="2343.5">0.8</text><text x="108" y="2375.2">0.7</text><text x="108" y="2406.9">0.6</text><text x="108" y="2438.7">0.5</text><text x="108" y="2470.4">0.4</text><text x="108" y="2502.1">0.3</text><text x="108" y="2533.8">0.2</text>
</g>
<g class="tk" text-anchor="middle">
<text x="170.5" y="2550.8">09/19 21:11:00</text><text x="367.4" y="2550.8">09/19 21:12:00</text><text x="564.9" y="2550.8">09/19 21:13:00</text><text x="762.3" y="2550.8">09/19 21:14:00</text><text x="959.7" y="2550.8">09/19 21:15:00</text><text x="1157.2" y="2550.8">09/19 21:16:00</text><text x="1354.7" y="2550.8">09/19 21:17:00</text><text x="1551.6" y="2550.8">09/19 21:18:00</text>
</g>
<text transform="translate(65,2417) rotate(-90)" text-anchor="middle" style="fill:#444"><tspan class="mi" font-size="14">β</tspan><tspan class="mi" font-size="10" dy="3">p</tspan></text>

<!-- ============ TS5: Proton Number Density ============ -->
<text class="tt" x="900" y="2629.4" text-anchor="middle">Proton Number Density</text>
<polyline fill="none" stroke="#00f" stroke-width="1.8" points="117,2738.5 209.1,2640.8 301.2,2653.1 393.4,2746 485.5,2718.7 577.6,2792.2 669.7,2835.4 761.8,2788.3 853.9,2757 946.1,2724.4 1038.2,2746.9 1130.3,2770.2 1222.4,2763.2 1314.5,2643 1406.6,2708.2 1498.8,2739.8 1590.9,2712.1 1683,2708.2"/>
<rect class="ax" x="117" y="2639.4" width="1566" height="222"/>
<use href="#xt" transform="translate(0,2639.4)"/>
<path class="tks" d="M117 2667.2h6.5M117 2694.9h6.5M117 2722.7h6.5M117 2750.4h6.5M117 2778.2h6.5M117 2805.9h6.5M117 2833.7h6.5M1683 2667.2h-6.5M1683 2694.9h-6.5M1683 2722.7h-6.5M1683 2750.4h-6.5M1683 2778.2h-6.5M1683 2805.9h-6.5M1683 2833.7h-6.5"/>
<g class="tk" text-anchor="end">
<text x="108" y="2645.4">48</text><text x="108" y="2673.2">47</text><text x="108" y="2700.9">46</text><text x="108" y="2728.7">45</text><text x="108" y="2756.4">44</text><text x="108" y="2784.2">43</text><text x="108" y="2811.9">42</text><text x="108" y="2839.7">41</text><text x="108" y="2867.4">40</text>
</g>
<g class="tk" text-anchor="middle">
<text x="170.5" y="2884.4">09/19 21:11:00</text><text x="367.4" y="2884.4">09/19 21:12:00</text><text x="564.9" y="2884.4">09/19 21:13:00</text><text x="762.3" y="2884.4">09/19 21:14:00</text><text x="959.7" y="2884.4">09/19 21:15:00</text><text x="1157.2" y="2884.4">09/19 21:16:00</text><text x="1354.7" y="2884.4">09/19 21:17:00</text><text x="1551.6" y="2884.4">09/19 21:18:00</text>
</g>
<text class="tk" transform="translate(73.7,2751) rotate(-90)" text-anchor="middle">Np(#/cc)</text>

<!-- ============ TS6: Proton Temperature ============ -->
<text class="tt" x="900" y="2963" text-anchor="middle">Proton Temperature and <tspan class="mi">T</tspan><tspan class="mi" font-size="16" dy="4">e</tspan><tspan class="mi" dy="-4">/T</tspan><tspan class="mi" font-size="16" dy="4">p</tspan></text>
<polyline fill="none" stroke="#00f" stroke-width="1.8" points="117,3059.4 209.1,2995.1 301.2,2998.2 393.4,3072.6 485.5,3069.1 577.6,3123.2 669.7,3163.7 761.8,3136 853.9,3118.4 946.1,3085.4 1038.2,3070.8 1130.3,3086.7 1222.4,3089.3 1314.5,3040.9 1406.6,3053.7 1498.8,3103 1590.9,3113.1 1683,3075.7"/>
<rect class="ax" x="117" y="2973" width="1566" height="222"/>
<use href="#xt" transform="translate(0,2973)"/>
<path class="tks" d="M117 3004.7h6.5M117 3036.4h6.5M117 3068.1h6.5M117 3099.9h6.5M117 3131.6h6.5M117 3163.3h6.5M1683 3004.7h-6.5M1683 3036.4h-6.5M1683 3068.1h-6.5M1683 3099.9h-6.5M1683 3131.6h-6.5M1683 3163.3h-6.5"/>
<g class="tk" text-anchor="end">
<text x="108" y="2979">0.24</text><text x="108" y="3010.7">0.22</text><text x="108" y="3042.4">0.20</text><text x="108" y="3074.1">0.18</text><text x="108" y="3105.9">0.16</text><text x="108" y="3137.6">0.14</text><text x="108" y="3169.3">0.12</text><text x="108" y="3201">0.10</text>
</g>
<g class="tk" text-anchor="middle">
<text x="170.5" y="3218">09/19 21:11:00</text><text x="367.4" y="3218">09/19 21:12:00</text><text x="564.9" y="3218">09/19 21:13:00</text><text x="762.3" y="3218">09/19 21:14:00</text><text x="959.7" y="3218">09/19 21:15:00</text><text x="1157.2" y="3218">09/19 21:16:00</text><text x="1354.7" y="3218">09/19 21:17:00</text><text x="1551.6" y="3218">09/19 21:18:00</text>
</g>
<text class="tk" transform="translate(53,3084) rotate(-90)" text-anchor="middle">Tp(<tspan class="mr">10</tspan><tspan class="mr" font-size="10" dy="-6">6</tspan><tspan class="mr" dy="6">K</tspan>)</text>
<rect x="124" y="2980" width="70.6" height="27" fill="#fff" stroke="#000" stroke-width="2"/>
<line x1="133.8" y1="2993.5" x2="156" y2="2993.5" stroke="#00f" stroke-width="2"/>
<text class="lg" x="171" y="2998.7">Tp</text>
</svg>
</body></html>
